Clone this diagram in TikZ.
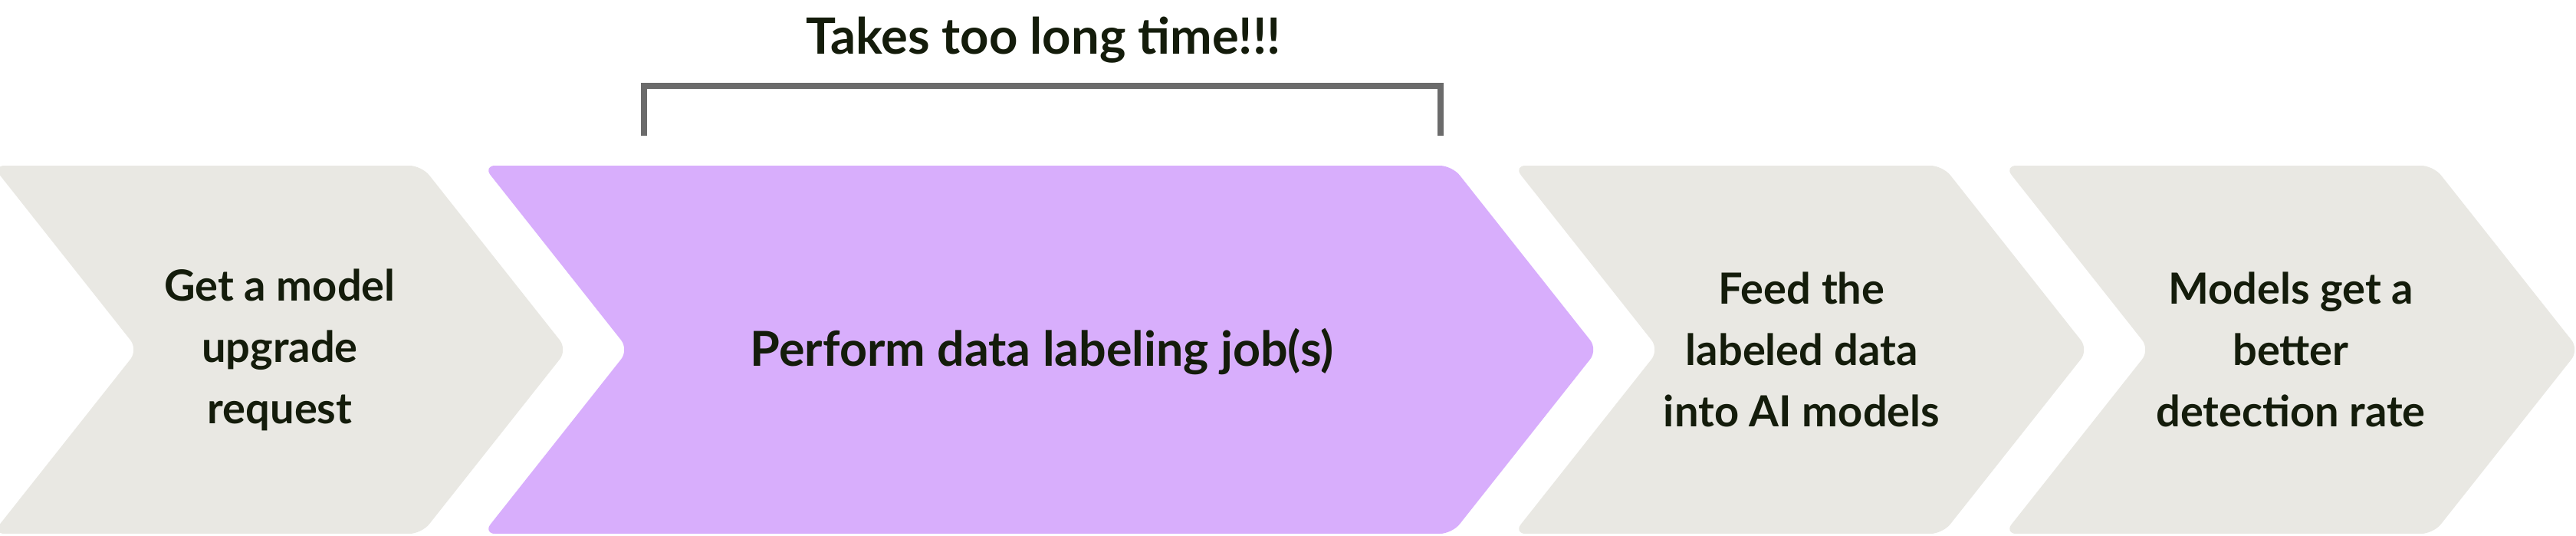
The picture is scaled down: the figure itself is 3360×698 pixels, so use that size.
\documentclass[tikz,border=0pt]{standalone}
\usepackage{fontspec}
\setmainfont{Lato}
\usepackage{tikz}
\definecolor{chevgray}{HTML}{E9E8E3}
\definecolor{chevpurple}{HTML}{D8AEFC}
\definecolor{inkdark}{HTML}{141C0B}
\definecolor{bracketgray}{HTML}{6B6B6B}

\begin{document}
\begin{tikzpicture}[x=0.25pt,y=0.25pt,yscale=-1,xscale=1,
  chevron/.style={rounded corners=4pt},
  steptext/.style={font=\bfseries\fontsize{14pt}{20pt}\selectfont, text=inkdark, align=center, inner sep=0pt}]
\useasboundingbox (0,0) rectangle (3360,698); %set diagram left start at 0, and has height of 698

%Shape: Chevron (first step)
\fill [chevgray, chevron] (-10,216) -- (550,216) -- (740,456) -- (550,696) -- (-10,696) -- (180,456) -- cycle ;
%Shape: Chevron (labeling step)
\fill [chevpurple, chevron] (630,216) -- (1894,216) -- (2084,456) -- (1894,696) -- (630,696) -- (820,456) -- cycle ;
%Shape: Chevron (feed step)
\fill [chevgray, chevron] (1974,216) -- (2534,216) -- (2724,456) -- (2534,696) -- (1974,696) -- (2164,456) -- cycle ;
%Shape: Chevron (last step)
\fill [chevgray, chevron] (2614,216) -- (3174,216) -- (3364,456) -- (3174,696) -- (2614,696) -- (2804,456) -- cycle ;

%Bracket over the labeling step
\draw [bracketgray, line width=2pt] (840,177) -- (840,112) -- (1879,112) -- (1879,177) ;

% Text Node
\node [steptext, font=\bfseries\fontsize{16.3pt}{20pt}\selectfont, anchor=base] (delay) at (1361,70) {Takes too long time!!!};
% Text Node
\node [steptext] (request) at (365,456) {Get a model\\upgrade\\request};
% Text Node
\node [steptext, font=\bfseries\fontsize{15.7pt}{20pt}\selectfont, anchor=base] (labeling) at (1359,477) {Perform data labeling job(s)};
% Text Node
\node [steptext] (feed) at (2350,456) {Feed the\\labeled data\\into AI models};
% Text Node
\node [steptext] (better) at (2988,456) {Models get a\\better\\detection rate};

\end{tikzpicture}
\end{document}
